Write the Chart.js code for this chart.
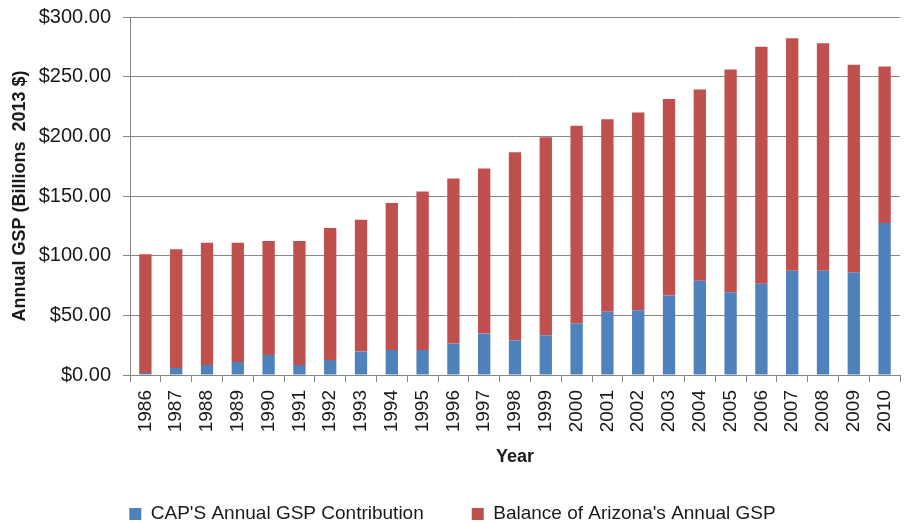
<!DOCTYPE html>
<html>
<head>
<meta charset="utf-8">
<script src="https://cdn.jsdelivr.net/npm/chart.js@4"></script>
<style>
  html, body { margin: 0; padding: 0; background: #fff; }
  #wrap { width: 908px; height: 523px; }
</style>
</head>
<body>
<div id="wrap"><canvas id="c" width="908" height="523"></canvas></div>
<script>
const years = ["1986","1987","1988","1989","1990","1991","1992","1993","1994","1995","1996","1997","1998","1999","2000","2001","2002","2003","2004","2005","2006","2007","2008","2009","2010"];
const capContribution = [1.7,5.9,8.4,10.9,16.8,8.4,12.6,19.6,21.0,21.0,26.4,34.7,29.1,33.3,43.2,52.9,54.3,66.7,78.9,69.4,76.4,87.3,87.3,86.0,127.4];
const balanceArizona = [99.4,99.4,102.4,99.9,95.5,103.9,110.6,110.6,123.2,132.7,138.2,138.3,157.6,166.0,165.6,161.5,165.7,164.5,160.4,186.7,198.7,194.8,190.6,174.0,131.2];
const yTicks = [0,50,100,150,200,250,300];

const FONT = "'Liberation Sans', Arial, sans-serif";
const GRID = '#868686';
const TXT = '#1a1a1a';

new Chart(document.getElementById('c'), {
  type: 'bar',
  data: {
    labels: years,
    datasets: [
      { label: "CAP'S Annual GSP Contribution", data: capContribution, backgroundColor: '#4F81BD', barPercentage: 0.4, categoryPercentage: 1.0 },
      { label: "Balance of Arizona's Annual GSP", data: balanceArizona, backgroundColor: '#C0504D', barPercentage: 0.4, categoryPercentage: 1.0 }
    ]
  },
  options: {
    responsive: false,
    animation: false,
    devicePixelRatio: 1,
    layout: { padding: { left: 5, right: 8, top: 17, bottom: -10.5 } },
    plugins: {
      tooltip: { enabled: false },
      legend: {
        position: 'bottom',
        labels: { boxWidth: 12, boxHeight: 12, padding: 48, color: TXT, font: { family: FONT, size: 19 } }
      }
    },
    scales: {
      x: {
        stacked: true,
        offset: true,
        grid: { display: true, drawOnChartArea: false, drawTicks: true, tickLength: 7, color: GRID, offset: true },
        border: { color: GRID },
        ticks: { minRotation: 90, maxRotation: 90, padding: 8, color: TXT, font: { family: FONT, size: 19 } },
        title: { display: true, text: 'Year', color: TXT, font: { family: FONT, size: 18, weight: 'bold' }, padding: { top: 4, bottom: -11 } },
        afterFit: (s) => { s.height = 81.5; s.paddingLeft = 0; s.paddingRight = 0; }
      },
      y: {
        stacked: true,
        min: 0, max: 300,
        afterBuildTicks: (s) => { s.ticks = yTicks.map(v => ({ value: v })); },
        grid: { color: GRID, tickLength: 7 },
        border: { color: GRID },
        ticks: { padding: 12, color: TXT, font: { family: FONT, size: 20 }, callback: (v) => '$' + Number(v).toFixed(2) },
        title: { display: true, text: 'Annual GSP (Billions  2013 $)', color: TXT, font: { family: FONT, size: 18, weight: 'bold' }, padding: { top: 4, bottom: 4 } },
        afterFit: (s) => { s.width = 125; s.paddingTop = 0; s.paddingBottom = 0; }
      }
    }
  }
});
</script>
</body>
</html>
